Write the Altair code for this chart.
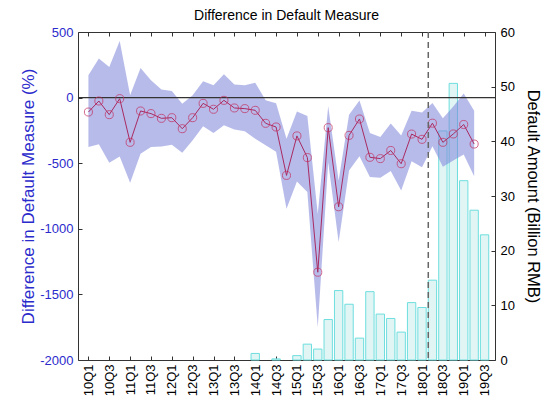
import altair as alt
import pandas as pd

# ---------------- data ----------------
quarters = [
    "10Q1", "10Q2", "10Q3", "10Q4", "11Q1", "11Q2", "11Q3", "11Q4",
    "12Q1", "12Q2", "12Q3", "12Q4", "13Q1", "13Q2", "13Q3", "13Q4",
    "14Q1", "14Q2", "14Q3", "14Q4", "15Q1", "15Q2", "15Q3", "15Q4",
    "16Q1", "16Q2", "16Q3", "16Q4", "17Q1", "17Q2", "17Q3", "17Q4",
    "18Q1", "18Q2", "18Q3", "18Q4", "19Q1", "19Q2", "19Q3",
]

diff_measure = [
    -110, -26, -130, -8, -341, -102, -122, -158,
    -153, -237, -153, -44, -89, -21, -79, -84,
    -97, -196, -224, -593, -292, -457, -1331, -229,
    -832, -288, -163, -455, -465, -403, -504, -278,
    -318, -195, -341, -277, -205, -354,
]

band_upper = [
    170, 298, 234, 432, 18, 226, 132, 61,
    50, -46, 18, 124, 94, 178, 99, 94,
    114, -21, -43, -313, -106, -140, -888, -66,
    -631, -131, -23, -270, -300, -197, -288, -101,
    -113, -41, -158, -68, 31, -100,
]

band_lower = [
    -377, -356, -496, -448, -649, -428, -377, -372,
    -359, -420, -326, -219, -270, -211, -244, -257,
    -313, -364, -412, -847, -640, -720, -1751, -492,
    -1100, -555, -447, -606, -610, -560, -708, -485,
    -530, -370, -527, -479, -434, -600,
]

default_amount = [
    0, 0, 0, 0, 0, 0, 0, 0,
    0, 0, 0, 0, 0, 0, 0, 0,
    1.2, 0, 0.2, 0, 0.8, 2.9, 2.0, 7.4,
    12.7, 10.2, 4.0, 12.5, 8.4, 7.6, 5.1, 10.5,
    9.6, 14.6, 41.9, 50.6, 32.8, 27.4, 22.9,
]

zero_level = [0]
policy_quarter = [32.6]

left_ticks_vals = [-2000, -1500, -1000, -500, 0, 500]
right_ticks_vals = [0, 10, 20, 30, 40, 50, 60]

# ---------------- frames ----------------
n_m = len(diff_measure)
measure_df = pd.DataFrame({
    "idx": list(range(n_m)),
    "quarter": quarters[:n_m],
    "diff": diff_measure,
    "upper": band_upper,
    "lower": band_lower,
})
amount_df = pd.DataFrame({
    "idx": list(range(len(default_amount))),
    "quarter": quarters,
    "amount": default_amount,
})
zero_df = pd.DataFrame({"y": zero_level})
policy_df = pd.DataFrame({"x": policy_quarter})

FONT = "Liberation Sans"
BLUE = "#2b2bcc"
FRAME = "#333333"

label_expr = "[" + ",".join(f"'{q}'" for q in quarters) + "][datum.value]"
x_tick_vals = list(range(0, len(quarters), 2))

x_scale = alt.Scale(domain=[-1, 39], nice=False, zero=False)
left_scale = alt.Scale(domain=[-2000, 500], nice=False, zero=False)
right_scale = alt.Scale(domain=[0, 60], nice=False, zero=True)

x_label_axis = alt.Axis(
    orient="bottom", values=x_tick_vals, labelExpr=label_expr, labelAngle=270,
    labelFontSize=13, labelFont=FONT, labelColor="black", labelPadding=4,
    labelOverlap=False, ticks=False, domain=False, grid=False, title=None,
)
x_tick_bottom = alt.Axis(
    orient="bottom", values=x_tick_vals, labels=False, domain=False, grid=False,
    tickSize=4, offset=-4, tickColor=FRAME, title=None,
)
x_tick_top = alt.Axis(
    orient="top", values=x_tick_vals, labels=False, domain=False, grid=False,
    tickSize=4, offset=-4, tickColor=FRAME, title=None,
)
left_axis = alt.Axis(
    orient="left", values=left_ticks_vals, labelExpr="toString(datum.value)",
    labelColor=BLUE, labelFontSize=13,
    labelFont=FONT, labelPadding=5, ticks=False, domain=False, grid=False,
    title="Difference in Default Measure (%)", titleColor=BLUE, titleFontSize=17,
    titleFont=FONT, titleFontWeight="normal", titlePadding=2,
)
left_tick_axis = alt.Axis(
    orient="left", values=left_ticks_vals, labels=False, domain=False, grid=False,
    tickSize=4, offset=-4, tickColor=FRAME, title=None,
)
right_axis = alt.Axis(
    orient="right", values=right_ticks_vals, labelColor="black", labelFontSize=13,
    labelFont=FONT, labelPadding=5, ticks=False, domain=False, grid=False,
    title="Default Amount (Billion RMB)", titleColor="black", titleFontSize=16.5,
    titleFont=FONT, titleFontWeight="normal", titlePadding=10,
)
right_tick_axis = alt.Axis(
    orient="right", values=right_ticks_vals, labels=False, domain=False, grid=False,
    tickSize=4, offset=-4, tickColor=FRAME, title=None,
)

bar_base = (
    alt.Chart(amount_df)
    .transform_filter("datum.amount > 0")
    .transform_calculate(x0="datum.idx - 0.4", x1="datum.idx + 0.4", base="0")
)

bars = bar_base.mark_bar(fill="#e2f5f5", stroke="#6edede", strokeWidth=1).encode(
    x=alt.X("x0:Q", scale=x_scale, axis=x_label_axis),
    x2="x1:Q",
    y=alt.Y("amount:Q", scale=right_scale, axis=right_axis),
    y2="base:Q",
)

bar_ticks = bar_base.mark_bar(opacity=0).encode(
    x=alt.X("x0:Q", scale=x_scale, axis=x_tick_bottom),
    x2="x1:Q",
    y=alt.Y("amount:Q", scale=right_scale, axis=right_tick_axis),
    y2="base:Q",
)

band = alt.Chart(measure_df).mark_area(color="#7b83d8", opacity=0.55).encode(
    x=alt.X("idx:Q", scale=x_scale, axis=x_tick_top),
    y=alt.Y("lower:Q", scale=left_scale, axis=left_axis),
    y2="upper:Q",
)

zero_rule = alt.Chart(zero_df).mark_rule(color=FRAME, strokeWidth=1.2).encode(
    y=alt.Y("y:Q", scale=left_scale, axis=None),
)

line = alt.Chart(measure_df).mark_line(color="#a82a62", strokeWidth=1).encode(
    x=alt.X("idx:Q", scale=x_scale, axis=None),
    y=alt.Y("diff:Q", scale=left_scale, axis=left_tick_axis),
)

points = alt.Chart(measure_df).mark_point(
    shape="circle", filled=False, size=65, stroke="#c42c5c", strokeWidth=1
).encode(
    x=alt.X("idx:Q", scale=x_scale, axis=None),
    y=alt.Y("diff:Q", scale=left_scale, axis=None),
)

policy = alt.Chart(policy_df).mark_rule(
    color="#666666", strokeWidth=1.5, strokeDash=[6, 4]
).encode(
    x=alt.X("x:Q", scale=x_scale, axis=None),
)

chart = (
    alt.layer(bars, bar_ticks, band, zero_rule, line, points, policy)
    .resolve_scale(y="independent")
    .resolve_axis(x="independent", y="independent")
    .properties(
        width=417,
        height=328,
        title=alt.TitleParams(
            "Difference in Default Measure", fontSize=14, font=FONT,
            fontWeight="normal", color="black", offset=3, anchor="middle",
        ),
        padding={"left": 70, "top": 24, "right": 50, "bottom": 45},
        autosize=alt.AutoSizeParams(type="none"),
    )
    .configure_view(stroke=FRAME, strokeWidth=1)
)

chart.save("out.html", embed_options={"renderer": "svg", "actions": False})
